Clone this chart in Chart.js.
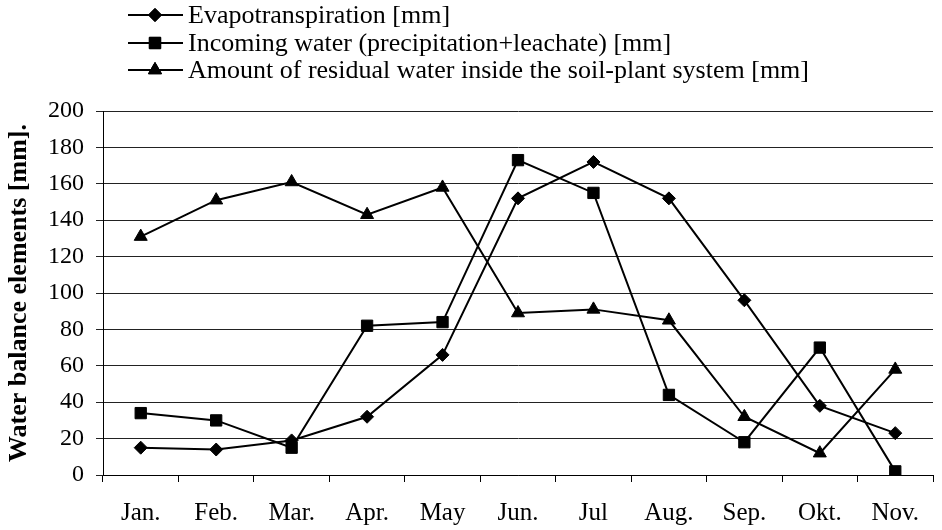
<!DOCTYPE html>
<html>
<head>
<meta charset="utf-8">
<script src="https://cdn.jsdelivr.net/npm/chart.js@4/dist/chart.umd.min.js"></script>
<style>
html,body{margin:0;padding:0;background:#fff;}
#wrap{width:942px;height:530px;position:relative;}
</style>
</head>
<body>
<div id="wrap"><canvas id="c" width="942" height="530"></canvas></div>
<script>
const months = ["Jan.", "Feb.", "Mar.", "Apr.", "May", "Jun.", "Jul", "Aug.", "Sep.", "Okt.", "Nov."];
const evapotranspiration = [15, 14, 19, 32, 66, 152, 172, 152, 96, 38, 23];
const incomingWater = [34, 30, 15, 82, 84, 173, 155, 44, 18, 70, 2];
const residualWater = [131, 151, 161, 143, 158, 89, 91, 85, 32, 12, 58];
const seriesNames = [
  "Evapotranspiration [mm]",
  "Incoming water (precipitation+leachate) [mm]",
  "Amount of residual water inside the soil-plant system [mm]"
];
const yTicks = [0, 20, 40, 60, 80, 100, 120, 140, 160, 180, 200];
const yTitle = "Water balance elements [mm].";

const FONT = "'Liberation Serif', 'Times New Roman', serif";

const legendPlugin = {
  id: 'customLegend',
  afterDraw(chart) {
    const ctx = chart.ctx;
    const rows = [15, 43, 70];
    ctx.save();
    chart.data.datasets.forEach((ds, i) => {
      const y = rows[i];
      ctx.strokeStyle = '#000';
      ctx.lineWidth = 2;
      ctx.beginPath();
      ctx.moveTo(128, y);
      ctx.lineTo(183, y);
      ctx.stroke();
      ctx.fillStyle = '#000';
      ctx.strokeStyle = '#000';
      ctx.lineWidth = 1;
      Chart.helpers.drawPoint(ctx, {pointStyle: ds.pointStyle, radius: ds.pointRadius, borderWidth: 1}, 155, y);
      ctx.fill();
      ctx.stroke();
      ctx.font = "26px " + FONT;
      ctx.textBaseline = 'middle';
      ctx.textAlign = 'left';
      ctx.fillText(ds.label, 188, y + 1);
    });
    ctx.restore();
  }
};

const common = {
  borderColor: '#000',
  backgroundColor: '#000',
  pointBackgroundColor: '#000',
  pointBorderColor: '#000',
  borderWidth: 2,
  pointBorderWidth: 1,
  tension: 0,
  fill: false
};

new Chart(document.getElementById('c'), {
  type: 'line',
  data: {
    labels: months,
    datasets: [
      Object.assign({label: seriesNames[0], data: evapotranspiration, pointStyle: 'rectRot', pointRadius: 6.5}, common),
      Object.assign({label: seriesNames[1], data: incomingWater, pointStyle: 'rect', pointRadius: 8}, common),
      Object.assign({label: seriesNames[2], data: residualWater, pointStyle: 'triangle', pointRadius: 7.5}, common)
    ]
  },
  options: {
    responsive: false,
    animation: false,
    devicePixelRatio: 1,
    layout: {padding: {top: 111, right: 4, left: 0, bottom: 0}},
    plugins: {legend: {display: false}, tooltip: {enabled: false}},
    scales: {
      x: {
        offset: true,
        grid: {offset: true, drawOnChartArea: false, tickLength: 7, color: '#000', lineWidth: 1},
        border: {display: true, color: '#000', width: 1},
        ticks: {color: '#000', font: {family: FONT, size: 25}, padding: 16, maxRotation: 0, autoSkip: false},
        afterFit(s) { s.height = 55; }
      },
      y: {
        min: 0, max: 200,
        afterBuildTicks(s) { s.ticks = yTicks.map(v => ({value: v})); },
        grid: {color: '#222', lineWidth: 1, tickLength: 7},
        border: {display: true, color: '#000', width: 1},
        ticks: {color: '#000', font: {family: FONT, size: 24}, padding: 12},
        title: {display: true, text: yTitle, color: '#000', font: {family: FONT, size: 26, weight: 'bold'}, padding: {top: 4, bottom: 0}},
        afterFit(s) { s.width = 103; }
      }
    }
  },
  plugins: [legendPlugin]
});
</script>
</body>
</html>
